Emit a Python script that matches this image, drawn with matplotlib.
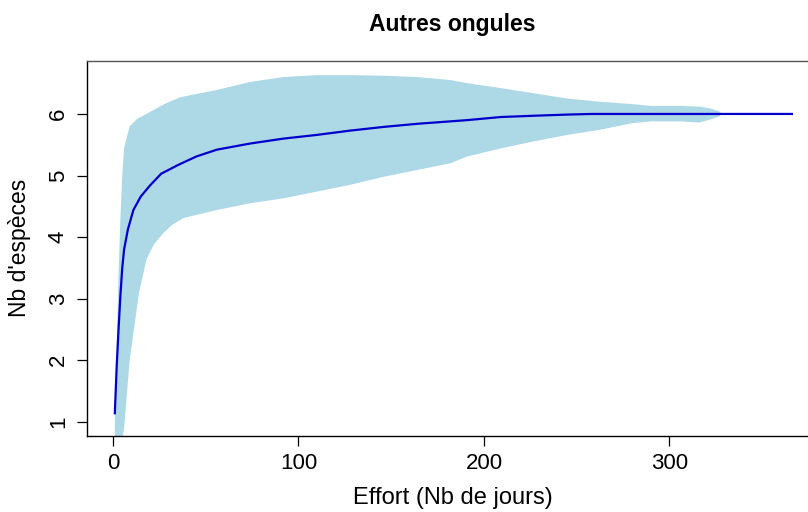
import matplotlib
matplotlib.use("Agg")
import matplotlib.pyplot as plt

plt.rcParams['font.family'] = ['Liberation Sans', 'DejaVu Sans']

title = "Autres ongules"
xlabel = "Effort (Nb de jours)"
ylabel = "Nb d'espèces"
xticks = [0, 100, 200, 300]
yticks = [1, 2, 3, 4, 5, 6]

# Upper bound of the band
up_x = [1, 2, 3, 4, 5, 6, 9, 13, 18, 27, 36, 56, 74, 92, 110, 128, 146, 164,
        182, 191, 209, 226, 245, 262, 280, 290, 306, 316, 322, 327, 328]
up_y = [1.0, 2.2, 3.4, 4.3, 5.0, 5.45, 5.8, 5.92, 6.0, 6.15, 6.27, 6.39, 6.52,
        6.6, 6.63, 6.63, 6.62, 6.6, 6.55, 6.5, 6.42, 6.34, 6.25, 6.2, 6.16,
        6.13, 6.13, 6.12, 6.09, 6.04, 6.0]
# Lower bound of the band
lo_x = [1, 6, 9, 14, 18, 22, 27, 32, 38, 56, 74, 92, 110, 128, 146, 164, 182,
        191, 209, 226, 245, 262, 280, 290, 306, 316, 322, 327, 328]
lo_y = [0.0, 0.9, 2.0, 3.09, 3.63, 3.88, 4.06, 4.2, 4.31, 4.44, 4.55, 4.63,
        4.74, 4.85, 4.98, 5.09, 5.2, 5.31, 5.44, 5.55, 5.66, 5.74, 5.85, 5.88,
        5.88, 5.86, 5.91, 5.96, 6.0]
# Mean accumulation curve
mean_x = [1, 2, 3, 4, 5, 6, 8, 11, 15, 20, 26, 35, 45, 56, 74, 92, 110, 128,
          146, 164, 182, 191, 209, 226, 245, 258, 366]
mean_y = [1.14, 1.9, 2.5, 3.05, 3.5, 3.8, 4.12, 4.44, 4.66, 4.84, 5.03, 5.17,
          5.31, 5.42, 5.52, 5.6, 5.66, 5.73, 5.79, 5.84, 5.88, 5.9, 5.95, 5.97,
          5.99, 6.0, 6.0]

W, H = 808, 512
fig = plt.figure(figsize=(W / 100, H / 100), dpi=100)
ax = fig.add_axes([87 / W, 1 - 436 / H, (819 - 87) / W, (436 - 61) / H])

poly_x = up_x + lo_x[::-1]
poly_y = up_y + lo_y[::-1]
ax.fill(poly_x, poly_y, color='#ADD8E6', lw=0, zorder=1)
ax.plot(mean_x, mean_y, color='#0000CD', lw=1.6, zorder=2)

ax.set_xlim(-14, 380.6)
ax.set_ylim(0.77, 6.86)
ax.set_xticks(xticks)
ax.set_yticks(yticks)
ax.set_xticklabels([str(t) for t in xticks], fontsize=16)
ax.set_yticklabels([str(t) for t in yticks], fontsize=16, rotation=90, va='center')
ax.tick_params(direction='out', length=7, width=0.9)
ax.tick_params(axis='x', pad=5)
ax.tick_params(axis='y', pad=6)
for s in ax.spines.values():
    s.set_linewidth(1.0)
    s.set_color('black')
ax.spines['top'].set_color('#555555')

fig.text(452 / W, 1 - 25 / H, title, ha='center', va='center',
         fontsize=16.5, fontweight='bold')
fig.text(453 / W, 1 - 498 / H, xlabel, ha='center', va='center', fontsize=17)
fig.text(20 / W, 1 - 248 / H, ylabel, ha='center', va='center', fontsize=16.5,
         rotation=90)

fig.savefig("out.png", dpi=100)
